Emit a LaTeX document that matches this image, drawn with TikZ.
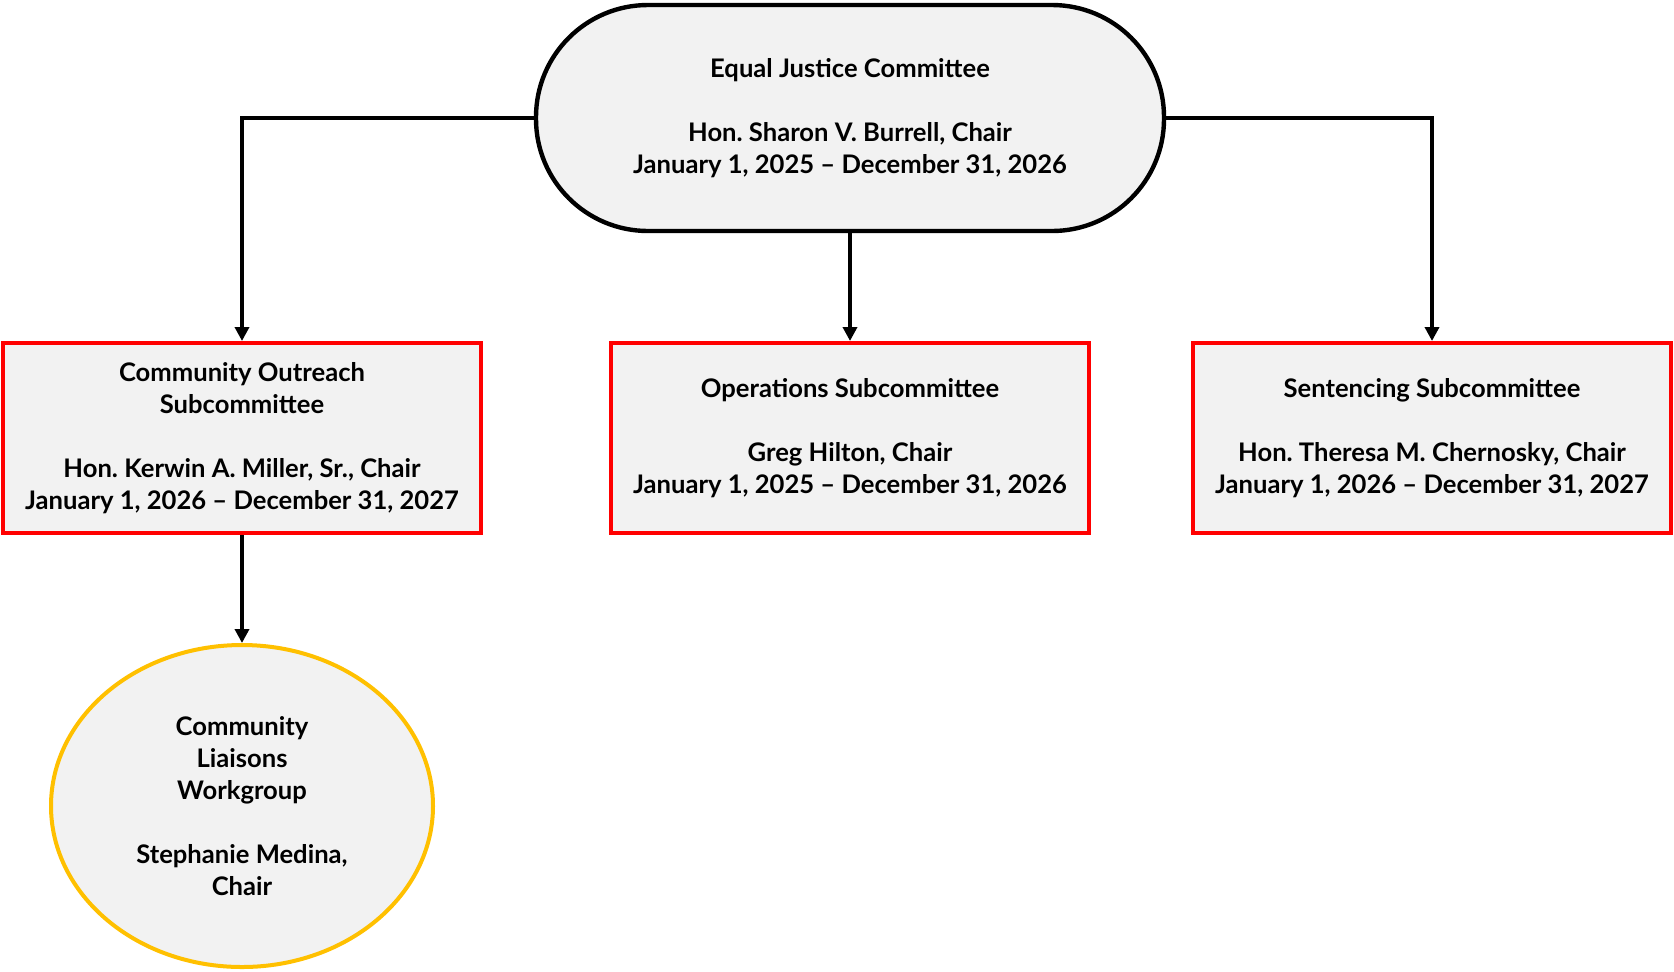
\documentclass[tikz,border=0pt]{standalone}
\usepackage{fontspec}
\setmainfont{Lato}
\frenchspacing
\usepackage{tikz}
\usetikzlibrary{positioning,shapes.geometric,arrows.meta}
\definecolor{boxfill}{HTML}{F2F2F2}
\definecolor{subred}{HTML}{FF0000}
\definecolor{wgyellow}{HTML}{FFC000}
\tikzset{
  every node/.style={font=\bfseries\fontsize{12.8}{16}\selectfont,align=center},
  committee/.style={draw=black,line width=2.2pt,fill=boxfill,rounded corners=56pt,minimum width=314pt,minimum height=113pt,inner sep=0pt},
  subbox/.style={draw=subred,line width=2pt,fill=boxfill,minimum width=239pt,minimum height=95pt,inner sep=0pt},
  workgroup/.style={ellipse,draw=wgyellow,line width=2pt,fill=boxfill,minimum width=191pt,minimum height=161pt,inner sep=0pt},
  arr/.style={line width=1.8pt,-{Triangle[length=7pt,width=7pt]}}
}
\begin{document}
\begin{tikzpicture}[x=0.5pt,y=-0.5pt]
\useasboundingbox (0,0) rectangle (1674,971);
\node[committee] (ejc) at (850,118) {Equal Justice Committee\\[16pt]Hon. Sharon V. Burrell, Chair\\January 1, 2025 -- December 31, 2026};

\node[subbox] (outreach) at (242,438) {Community Outreach\\Subcommittee\\[16pt]Hon. Kerwin A. Miller, Sr., Chair\\January 1, 2026 -- December 31, 2027};
\node[subbox] (ops) at (850,438) {Operations Subcommittee\\[16pt]Greg Hilton, Chair\\January 1, 2025 -- December 31, 2026};
\node[subbox] (sentencing) at (1432,438) {Sentencing Subcommittee\\[16pt]Hon. Theresa M. Chernosky, Chair\\January 1, 2026 -- December 31, 2027};

\node[workgroup] (liaisons) at (242,806) {Community\\Liaisons\\Workgroup\\[16pt]Stephanie Medina,\\Chair};

\draw[arr] (ejc.west) -| (outreach.north);
\draw[arr] (ejc.south) -- (ops.north);
\draw[arr] (ejc.east) -| (sentencing.north);
\draw[arr] (outreach.south) -- (liaisons.north);
\end{tikzpicture}
\end{document}
